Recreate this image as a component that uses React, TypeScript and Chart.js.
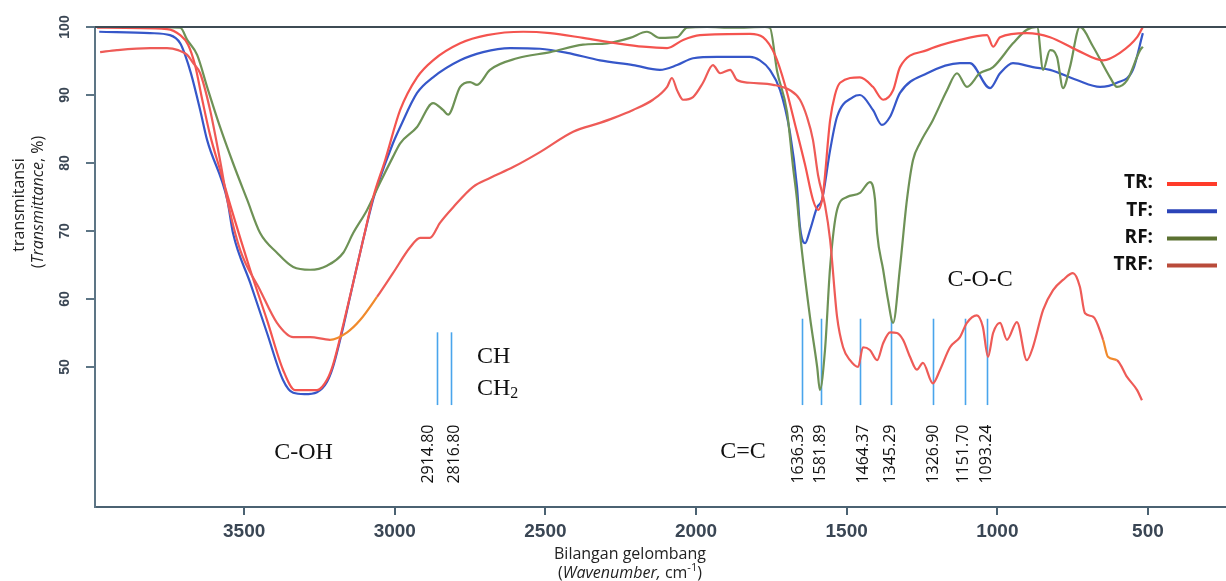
import React, { useEffect, useRef } from "react";
import { Chart, registerables } from "chart.js";

Chart.register(...registerables);

// ---------- data ----------
const trWavenumber = [3988, 3756, 3712, 3686, 3663, 3639, 3613, 3580, 3546, 3480, 3424, 3371, 3331, 3258, 3225, 3205, 3171, 3138, 3105, 3072, 3032, 2982, 2926, 2873, 2783, 2694, 2574, 2484, 2375, 2262, 2176, 2096, 2043, 1987, 1821, 1778, 1738, 1705, 1671, 1638, 1612, 1595, 1579, 1555, 1539, 1522, 1456, 1413, 1379, 1346, 1323, 1233, 1124, 1034, 1014, 991, 902, 825, 736, 649, 593, 536, 517];
const trTransmittance = [99.9, 99.7, 98.8, 97.4, 94.4, 89.3, 84.1, 79.0, 73.8, 64.3, 56.9, 49.6, 46.6, 46.6, 48.1, 50.3, 56.2, 62.4, 68.7, 74.9, 80.4, 87.8, 92.6, 95.1, 97.6, 98.8, 99.3, 99.1, 98.4, 97.6, 97.1, 96.9, 98.1, 98.8, 99.0, 98.5, 95.9, 91.5, 85.6, 79.7, 74.6, 73.1, 75.3, 86.3, 90.0, 91.8, 92.6, 91.2, 89.3, 90.7, 94.1, 96.6, 98.1, 98.8, 97.1, 98.5, 99.1, 98.5, 96.6, 95.1, 96.2, 98.5, 100];

const tfWavenumber = [3981, 3812, 3746, 3712, 3696, 3676, 3646, 3623, 3556, 3537, 3480, 3424, 3371, 3337, 3300, 3258, 3225, 3205, 3171, 3138, 3105, 3072, 3059, 3006, 2982, 2926, 2873, 2783, 2707, 2617, 2518, 2428, 2319, 2209, 2120, 2063, 2010, 1930, 1821, 1788, 1755, 1721, 1688, 1665, 1655, 1638, 1622, 1598, 1582, 1555, 1532, 1479, 1456, 1413, 1383, 1356, 1323, 1233, 1124, 1091, 1024, 991, 948, 882, 825, 736, 659, 603, 550, 517];
const tfTransmittance = [99.3, 99.1, 98.8, 97.6, 95.9, 93.1, 87.8, 83.4, 74.6, 69.7, 62.4, 55.0, 48.1, 46.2, 46.0, 46.3, 47.8, 50.0, 55.9, 62.4, 68.7, 74.6, 76.5, 82.9, 85.3, 90.3, 92.6, 95.1, 96.3, 96.9, 96.8, 96.2, 95.1, 94.4, 93.7, 94.4, 95.4, 95.6, 95.6, 95.1, 93.7, 90.7, 84.4, 76.5, 70.6, 68.2, 70.1, 73.5, 74.6, 81.9, 86.8, 89.7, 90.0, 87.8, 85.6, 86.8, 90.3, 93.2, 94.7, 94.7, 91.0, 93.2, 94.7, 94.1, 93.7, 92.2, 91.2, 91.8, 93.7, 99.1];

const rfWavenumber = [3835, 3712, 3689, 3656, 3623, 3580, 3537, 3490, 3447, 3391, 3337, 3281, 3225, 3171, 3138, 3092, 3049, 3006, 2982, 2926, 2873, 2840, 2823, 2783, 2750, 2727, 2684, 2594, 2484, 2375, 2295, 2219, 2163, 2120, 2063, 2030, 1964, 1877, 1771, 1755, 1731, 1698, 1678, 1665, 1655, 1622, 1598, 1589, 1572, 1555, 1532, 1499, 1456, 1423, 1406, 1399, 1379, 1363, 1346, 1323, 1300, 1280, 1257, 1214, 1167, 1134, 1101, 1058, 1014, 948, 902, 868, 848, 825, 802, 782, 759, 726, 682, 626, 603, 569, 526, 517];
const rfTransmittance = [100, 99.9, 98.1, 95.9, 91.2, 85.3, 80.0, 74.6, 69.7, 66.8, 64.7, 64.3, 64.9, 66.8, 69.7, 73.1, 77.1, 80.9, 82.9, 85.3, 88.8, 87.8, 87.1, 91.2, 91.9, 91.5, 93.7, 95.4, 96.3, 97.4, 97.6, 98.4, 99.3, 98.4, 98.5, 99.9, 100, 99.9, 100, 99.9, 93.5, 87.5, 79.4, 74.6, 69.7, 57.4, 50.0, 46.6, 52.5, 64.7, 73.1, 75.0, 75.6, 77.2, 74.6, 69.7, 64.3, 59.9, 56.5, 64.7, 74.6, 80.4, 82.9, 86.3, 90.7, 93.2, 91.2, 93.2, 94.1, 97.6, 99.6, 100, 93.7, 96.6, 95.6, 91.0, 94.1, 100, 97.1, 92.6, 91.2, 92.2, 96.6, 97.1];

const trfWavenumber = [3978, 3922, 3812, 3756, 3719, 3689, 3669, 3646, 3613, 3580, 3556, 3513, 3447, 3391, 3337, 3281, 3215, 3158, 3115, 3059, 3006, 2949, 2916, 2883, 2850, 2806, 2740, 2684, 2607, 2518, 2408, 2319, 2275, 2209, 2143, 2096, 2080, 2063, 2043, 2010, 1977, 1944, 1920, 1887, 1864, 1821, 1744, 1688, 1655, 1632, 1612, 1595, 1572, 1555, 1532, 1512, 1489, 1462, 1446, 1423, 1399, 1379, 1356, 1333, 1313, 1290, 1267, 1247, 1214, 1190, 1157, 1124, 1101, 1068, 1048, 1031, 1014, 991, 968, 935, 902, 882, 848, 815, 782, 749, 726, 709, 682, 649, 633, 603, 569, 536, 520];
const trfTransmittance = [96.3, 96.6, 96.9, 96.9, 96.6, 95.9, 94.7, 93.2, 87.8, 80.4, 74.6, 67.2, 61.3, 56.5, 54.4, 54.4, 54.0, 55.1, 56.9, 60.3, 63.8, 67.6, 69.0, 69.0, 71.2, 73.5, 76.5, 77.8, 79.4, 81.6, 84.6, 85.9, 86.6, 87.8, 89.3, 91.2, 92.5, 90.7, 89.3, 89.7, 91.8, 94.4, 93.2, 93.7, 92.2, 91.8, 91.5, 90.7, 89.3, 86.8, 83.4, 78.2, 73.8, 68.7, 57.4, 52.9, 51.0, 50.0, 52.9, 52.5, 51.0, 53.5, 55.1, 55.0, 54.0, 51.5, 49.6, 50.6, 47.6, 49.6, 52.9, 54.4, 56.5, 57.6, 55.9, 51.5, 55.0, 56.5, 54.0, 56.6, 51.0, 52.9, 58.4, 61.3, 62.8, 63.8, 61.8, 57.9, 57.4, 54.0, 51.5, 51.0, 48.5, 46.6, 45.1];

const xTickValues = [3500, 3000, 2500, 2000, 1500, 1000, 500];
const yTickValues = [50, 60, 70, 80, 90, 100];

const peakMarkerWavenumbers = [1647, 1586, 1456, 1354, 1214, 1108, 1034];
const peakLabels = ["1636.39", "1581.89", "1464.37", "1345.29", "1326.90", "1151.70", "1093.24"];
const chMarkerWavenumbers = [2860, 2814];
const chLabels = ["2914.80", "2816.80"];

const legendLabels = ["TR:", "TF:", "RF:", "TRF:"];
const legendColors = ["#ff3b2a", "#2b44b8", "#5b7131", "#b94b3a"];

// ---------- styles / layout ----------
const AXIS = "#4b6272";
const TICK_TEXT = "#3a4654";
const SANS = "'Open Sans', 'Noto Sans', sans-serif";
const SERIF = "'Liberation Serif', 'DejaVu Serif', serif";
const peakLabelDx = [-4, 0, 3, 0, 1, -1, -1];
const chLabelDx = [-9, 4];

const pts = (xs: number[], ys: number[]) => xs.map((x, i) => ({ x, y: ys[i] }));

type Piece = { t: string; font: string; dy?: number };
function drawRich(ctx: CanvasRenderingContext2D, pieces: Piece[], cx: number, cy: number, rotate: boolean) {
  ctx.save();
  ctx.translate(cx, cy);
  if (rotate) ctx.rotate(-Math.PI / 2);
  ctx.textBaseline = "middle";
  ctx.textAlign = "left";
  let total = 0;
  pieces.forEach((p) => {
    ctx.font = p.font;
    total += ctx.measureText(p.t).width;
  });
  let xx = -total / 2;
  pieces.forEach((p) => {
    ctx.font = p.font;
    ctx.fillText(p.t, xx, p.dy || 0);
    xx += ctx.measureText(p.t).width;
  });
  ctx.restore();
}

function rotText(ctx: CanvasRenderingContext2D, t: string, cx: number, cy: number, font: string, color: string) {
  ctx.save();
  ctx.translate(cx, cy);
  ctx.rotate(-Math.PI / 2);
  ctx.font = font;
  ctx.fillStyle = color;
  ctx.textAlign = "center";
  ctx.textBaseline = "middle";
  ctx.fillText(t, 0, 0);
  ctx.restore();
}

const decorPlugin = {
  id: "decor",
  beforeDatasetsDraw(chart: any) {
    const { ctx, scales } = chart;
    const x = scales.x, y = scales.y;
    ctx.save();
    ctx.strokeStyle = "#49a5ec";
    ctx.lineWidth = 1.6;
    peakMarkerWavenumbers.forEach((w) => {
      const px = Math.round(x.getPixelForValue(w)) + 0.5;
      ctx.beginPath();
      ctx.moveTo(px, y.getPixelForValue(57.1));
      ctx.lineTo(px, y.getPixelForValue(44.4));
      ctx.stroke();
    });
    chMarkerWavenumbers.forEach((w) => {
      const px = Math.round(x.getPixelForValue(w)) + 0.5;
      ctx.beginPath();
      ctx.moveTo(px, y.getPixelForValue(55.1));
      ctx.lineTo(px, y.getPixelForValue(44.4));
      ctx.stroke();
    });
    ctx.restore();
  },
  afterDatasetsDraw(chart: any) {
    const { ctx, chartArea, scales } = chart;
    const x = scales.x, y = scales.y;
    ctx.save();
    // top frame line at 100 %
    ctx.strokeStyle = "#3e4b54";
    ctx.lineWidth = 2;
    const yTop = y.getPixelForValue(100);
    ctx.beginPath();
    ctx.moveTo(chartArea.left, yTop);
    ctx.lineTo(chart.width, yTop);
    ctx.stroke();

    // y tick labels (rotated)
    yTickValues.forEach((v) => {
      rotText(ctx, String(v), chartArea.left - 30, y.getPixelForValue(v), `bold 14px 'Liberation Sans', Arial, sans-serif`, TICK_TEXT);
    });

    // peak numbers
    const numFont = `16px ${SANS}`;
    const numY = y.getPixelForValue(37.2);
    peakMarkerWavenumbers.forEach((w, i) => {
      rotText(ctx, peakLabels[i], x.getPixelForValue(w) + peakLabelDx[i], numY, numFont, "#111");
    });
    chMarkerWavenumbers.forEach((w, i) => {
      rotText(ctx, chLabels[i], x.getPixelForValue(w) + chLabelDx[i], numY, numFont, "#111");
    });

    // group labels
    ctx.fillStyle = "#111";
    ctx.font = `24px ${SERIF}`;
    ctx.textBaseline = "middle";
    ctx.textAlign = "center";
    ctx.fillText("C-OH", x.getPixelForValue(3303), y.getPixelForValue(37.4));
    ctx.fillText("C=C", x.getPixelForValue(1844), y.getPixelForValue(37.5));
    ctx.fillText("C-O-C", x.getPixelForValue(1057), y.getPixelForValue(62.9));
    ctx.textAlign = "left";
    const chX = x.getPixelForValue(2727);
    ctx.fillText("CH", chX, y.getPixelForValue(51.5));
    const ch2Y = y.getPixelForValue(46.8);
    ctx.fillText("CH", chX, ch2Y);
    const w = ctx.measureText("CH").width;
    ctx.font = `16px ${SERIF}`;
    ctx.fillText("2", chX + w, ch2Y + 5);

    // legend
    legendLabels.forEach((lab, i) => {
      const ly = 184 + i * 27.2;
      ctx.font = `bold 19px ${SANS}`;
      ctx.fillStyle = "#111";
      ctx.textAlign = "right";
      ctx.textBaseline = "middle";
      ctx.fillText(lab, 1153, ly - 1);
      ctx.strokeStyle = legendColors[i];
      ctx.lineWidth = 4;
      ctx.beginPath();
      ctx.moveTo(1167, ly);
      ctx.lineTo(1217, ly);
      ctx.stroke();
    });

    // axis titles
    ctx.fillStyle = "#222";
    const reg = `16px ${SANS}`;
    const ita = `italic 16px ${SANS}`;
    drawRich(ctx, [{ t: "transmitansi", font: reg }], 19, 205, true);
    drawRich(ctx, [{ t: "(", font: reg }, { t: "Transmittance", font: ita }, { t: ", %)", font: reg }], 38, 202, true);
    drawRich(ctx, [{ t: "Bilangan gelombang", font: reg }], 630, 554, false);
    drawRich(
      ctx,
      [
        { t: "(", font: reg },
        { t: "Wavenumber,", font: ita },
        { t: " cm", font: reg },
        { t: "-1", font: `11px ${SANS}`, dy: -5 },
        { t: ")", font: reg },
      ],
      630,
      573,
      false
    );
    ctx.restore();
  },
};

export default function App() {
  const ref = useRef<HTMLCanvasElement>(null);
  useEffect(() => {
    const canvas = ref.current;
    if (!canvas) return;
    const common = {
      pointRadius: 0,
      borderWidth: 2.2,
      cubicInterpolationMode: "monotone" as const,
      fill: false,
    };
    const chart = new Chart(canvas, {
      type: "line",
      data: {
        datasets: [
          {
            label: "TRF",
            data: pts(trfWavenumber, trfTransmittance),
            borderColor: "#ee5b57",
            segment: {
              borderColor: (c: any) => {
                const wv = c.p0.parsed.x;
                if ((wv <= 3215 && wv > 3100) || (wv <= 649 && wv > 610)) return "#f08a2c";
                return undefined;
              },
            },
            ...common,
          },
          { label: "TR", data: pts(trWavenumber, trTransmittance), borderColor: "#f4544f", ...common },
          { label: "RF", data: pts(rfWavenumber, rfTransmittance), borderColor: "#6e9256", ...common },
          { label: "TF", data: pts(tfWavenumber, tfTransmittance), borderColor: "#3657c9", ...common },
        ],
      },
      options: {
        responsive: false,
        animation: false,
        events: [],
        layout: { padding: { top: 27, left: 0, right: 0, bottom: 0 } },
        plugins: { legend: { display: false }, tooltip: { enabled: false }, title: { display: false } },
        scales: {
          x: {
            type: "linear",
            reverse: true,
            min: 241,
            max: 3995,
            afterBuildTicks: (s: any) => {
              s.ticks = xTickValues.map((v) => ({ value: v }));
            },
            afterFit: (s: any) => {
              s.height = 74;
              s.paddingLeft = 0;
              s.paddingRight = 0;
            },
            grid: { display: true, drawOnChartArea: false, drawTicks: true, tickLength: 8, color: AXIS, lineWidth: 2 },
            border: { display: true, color: AXIS, width: 2 },
            ticks: {
              autoSkip: false,
              maxRotation: 0,
              padding: 5,
              color: TICK_TEXT,
              font: { family: "'Liberation Sans', Arial, sans-serif", size: 19, weight: "bold" },
              callback: (v: any) => String(v),
            },
          },
          y: {
            type: "linear",
            min: 29.41,
            max: 100,
            afterBuildTicks: (s: any) => {
              s.ticks = yTickValues.map((v) => ({ value: v }));
            },
            afterFit: (s: any) => {
              s.width = 95;
            },
            grid: { display: true, drawOnChartArea: false, drawTicks: true, tickLength: 9, color: "#5d7585", lineWidth: 2 },
            border: { display: true, color: "#5d7585", width: 2 },
            ticks: { display: false },
          },
        },
      } as any,
      plugins: [decorPlugin],
    });
    return () => chart.destroy();
  }, []);
  return (
    <div style={{ position: "absolute", left: 0, top: 0, width: 1226, height: 581, background: "#fff" }}>
      <canvas ref={ref} width={1226} height={581} style={{ display: "block", width: 1226, height: 581 }} />
    </div>
  );
}
